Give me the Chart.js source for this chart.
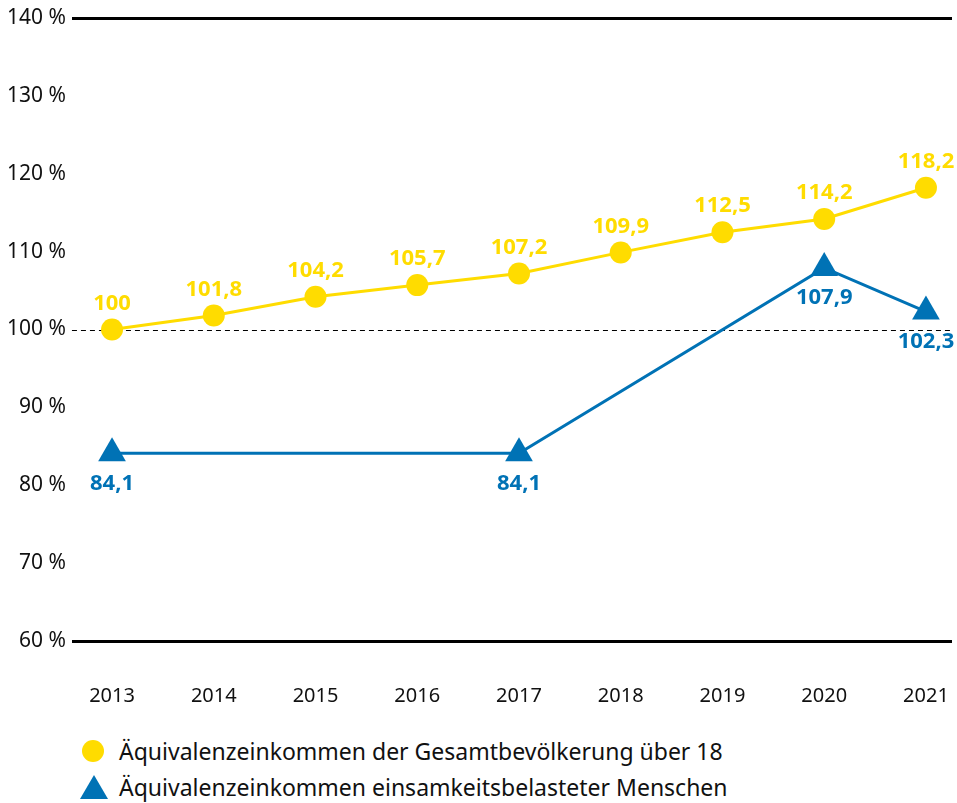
<!DOCTYPE html>
<html>
<head>
<meta charset="utf-8">
<script src="https://cdn.jsdelivr.net/npm/chart.js@4/dist/chart.umd.min.js"></script>
<style>
  html, body { margin: 0; padding: 0; background: #fff; overflow: hidden; font-family: "Noto Sans", sans-serif; }
  #wrap { position: relative; width: 957px; height: 803px; }
  #incomeChart { position: absolute; left: 0; top: 0; }
  .legend { position: absolute; left: 82px; font-size: 23px; color: #111; display: flex; align-items: center; white-space: nowrap; }
  .legend span.mark { display: inline-block; margin-right: 15px; }
  .dot { width: 22px; height: 22px; border-radius: 50%; background: #FFDC00; }
  .tri { width: 0; height: 0; border-left: 14px solid transparent; border-right: 14px solid transparent; border-bottom: 24px solid #0072B5; margin-left: -2px; margin-right: 11px !important; }
</style>
</head>
<body>
<div id="wrap">
  <canvas id="incomeChart" width="957" height="712"></canvas>
  <div class="legend" style="top:735px;"><span class="mark dot"></span>Äquivalenzeinkommen der Gesamtbevölkerung über 18</div>
  <div class="legend" style="top:771px;"><span class="mark tri"></span>Äquivalenzeinkommen einsamkeitsbelasteter Menschen</div>
</div>
<script>
// data
const years = [2013, 2014, 2015, 2016, 2017, 2018, 2019, 2020, 2021];
const totalIncome = [100, 101.8, 104.2, 105.7, 107.2, 109.9, 112.5, 114.2, 118.2];
const lonelyYears = [2013, 2017, 2020, 2021];
const lonelyIncome = [84.1, 84.1, 107.9, 102.3];
const yTicks = [60, 70, 80, 90, 100, 110, 120, 130, 140];

const YELLOW = '#FFDC00';
const BLUE = '#0072B5';

document.addEventListener('DOMContentLoaded', function() {
    initIncomeChart();
});

function fmt(v) {
    return String(v).replace('.', ',');
}

// dashed reference line at 100 %
const refLinePlugin = {
    id: 'refLine',
    beforeDatasetsDraw(chart) {
        const { ctx, chartArea, scales } = chart;
        const y = Math.round(scales.y.getPixelForValue(100)) + 0.5;
        ctx.save();
        ctx.strokeStyle = '#000';
        ctx.lineWidth = 1;
        ctx.setLineDash([5, 4]);
        ctx.beginPath();
        ctx.moveTo(chartArea.left, y);
        ctx.lineTo(chartArea.right, y);
        ctx.stroke();
        ctx.restore();
    }
};

// value labels above (yellow) and below (blue)
const valueLabelPlugin = {
    id: 'valueLabels',
    afterDatasetsDraw(chart) {
        const ctx = chart.ctx;
        ctx.save();
        ctx.font = 'bold 22px "Noto Sans", sans-serif';
        ctx.textAlign = 'center';
        ctx.textBaseline = 'middle';
        chart.data.datasets.forEach(function(ds, i) {
            const meta = chart.getDatasetMeta(i);
            meta.data.forEach(function(pt, j) {
                const val = ds.data[j].y;
                const off = i === 0 ? -26 : 30;
                ctx.fillStyle = ds.borderColor;
                ctx.fillText(fmt(val), pt.x, pt.y + off);
            });
        });
        ctx.restore();
    }
};

function initIncomeChart() {
    const ctx = document.getElementById('incomeChart').getContext('2d');

    new Chart(ctx, {
        type: 'line',
        data: {
            datasets: [{
                label: 'Äquivalenzeinkommen der Gesamtbevölkerung über 18',
                data: years.map((yr, i) => ({ x: yr, y: totalIncome[i] })),
                borderColor: YELLOW,
                backgroundColor: YELLOW,
                borderWidth: 3,
                pointStyle: 'circle',
                pointRadius: 11,
                pointHoverRadius: 11,
                pointBorderWidth: 0
            }, {
                label: 'Äquivalenzeinkommen einsamkeitsbelasteter Menschen',
                data: lonelyYears.map((yr, i) => ({ x: yr, y: lonelyIncome[i] })),
                borderColor: BLUE,
                backgroundColor: BLUE,
                borderWidth: 3,
                pointStyle: 'triangle',
                pointRadius: 16,
                pointHoverRadius: 16,
                pointBorderWidth: 0
            }]
        },
        options: {
            responsive: false,
            animation: false,
            layout: {
                autoPadding: false,
                padding: { top: 18, right: 5, left: 1, bottom: 0 }
            },
            plugins: {
                legend: { display: false },
                tooltip: { enabled: false }
            },
            scales: {
                x: {
                    type: 'linear',
                    min: 2012.606,
                    max: 2021.256,
                    afterBuildTicks: function(axis) {
                        axis.ticks = years.map(v => ({ value: v }));
                    },
                    afterFit: function(axis) {
                        // labels sit well inside the axis ends, no extra side padding
                        axis.paddingLeft = 0;
                        axis.paddingRight = 0;
                        axis.height = 71;
                    },
                    ticks: {
                        padding: 35,
                        maxRotation: 0,
                        minRotation: 0,
                        autoSkip: false,
                        color: '#111',
                        font: { family: '"Noto Sans", sans-serif', size: 20 },
                        callback: function(v) { return String(v); }
                    },
                    grid: { display: false },
                    border: { display: false }
                },
                y: {
                    min: 60,
                    max: 140,
                    afterBuildTicks: function(axis) {
                        axis.ticks = yTicks.map(v => ({ value: v }));
                    },
                    afterFit: function(axis) {
                        axis.paddingTop = 0;
                        axis.paddingBottom = 0;
                    },
                    ticks: {
                        padding: 6,
                        color: '#111',
                        font: { family: '"Noto Sans", sans-serif', size: 21 },
                        callback: function(v) { return v + ' %'; }
                    },
                    grid: {
                        drawTicks: false,
                        lineWidth: 3,
                        color: function(c) {
                            const v = c.tick ? c.tick.value : null;
                            return (v === 60 || v === 140) ? '#000' : 'rgba(0,0,0,0)';
                        }
                    },
                    border: { display: false }
                }
            }
        },
        plugins: [refLinePlugin, valueLabelPlugin]
    });
}
</script>
</body>
</html>
